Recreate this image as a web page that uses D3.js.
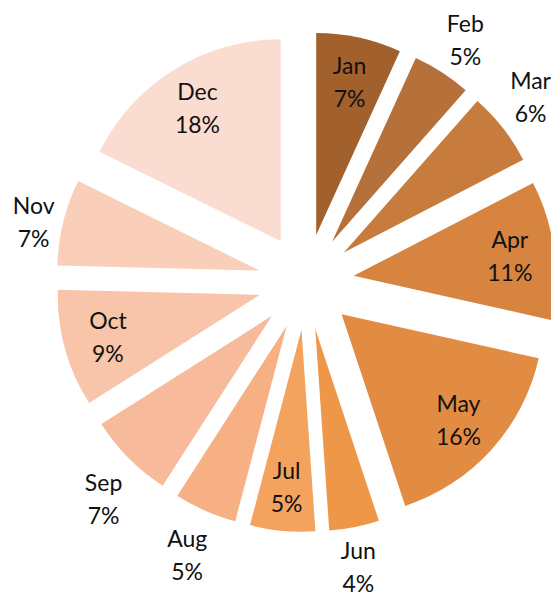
<!DOCTYPE html>
<html>
<head>
<meta charset="utf-8">
<script src="https://cdn.jsdelivr.net/npm/d3@7"></script>
<style>
  html, body { margin: 0; padding: 0; background: #fff; overflow: hidden; }
  text { font-family: Lato, "Open Sans", sans-serif; font-size: 23px; fill: #111; }
</style>
</head>
<body>
<div id="chart"></div>
<script>
// monthly share (percent)
const months = ["Jan", "Feb", "Mar", "Apr", "May", "Jun", "Jul", "Aug", "Sep", "Oct", "Nov", "Dec"];
const shares = [6.8, 4.7, 5.9, 11.1, 16.4, 4.0, 5.2, 5.0, 6.9, 9.4, 6.9, 17.7];
const colors = ["#a2602c", "#b6703a", "#c77b3d", "#d6843f", "#e28b43", "#ee9749",
                "#f4a35f", "#f6b083", "#f7bb9b", "#f8c5aa", "#f9cfb9", "#fbdcd0"];

const width = 551, height = 596;
const cx = 306, cy = 282;      // pie centre before explosion
const radius = 202;
const explode = 48;             // how far each slice is pulled out
const lineGap = 33;

const svg = d3.select("#chart").append("svg")
    .attr("width", width)
    .attr("height", height);

const data = months.map((m, i) => ({ month: m, value: shares[i], color: colors[i] }));
const total = d3.sum(shares);

const pie = d3.pie().sort(null).value(d => d.value);
const arc = d3.arc().innerRadius(0).outerRadius(radius);

const arcs = pie(data);
arcs.forEach(a => {
    a.mid = (a.startAngle + a.endAngle) / 2;
    a.dir = [Math.sin(a.mid), -Math.cos(a.mid)];
    a.apex = [cx + a.dir[0] * explode, cy + a.dir[1] * explode];
});

// slices
svg.append("g").selectAll("path")
    .data(arcs)
    .join("path")
    .attr("transform", d => `translate(${d.apex[0]},${d.apex[1]})`)
    .attr("d", arc)
    .attr("fill", d => d.data.color);

// labels
const labels = svg.append("g").selectAll("text")
    .data(arcs)
    .join("text")
    .attr("text-anchor", "middle")
    .attr("dominant-baseline", "central");

labels.append("tspan").attr("class", "l1").text(d => d.data.month);
labels.append("tspan").attr("class", "l2").text(d => Math.round(d.data.value / total * 100) + "%");

// does a label box of half size hw x hh, centred at p, fit inside the slice?
function fits(d, p, hw, hh) {
    const corners = [[-hw, -hh], [hw, -hh], [-hw, hh], [hw, hh]];
    return corners.every(([ox, oy]) => {
        const x = p[0] + ox - d.apex[0], y = p[1] + oy - d.apex[1];
        let ang = Math.atan2(x, -y);
        if (ang < 0) ang += 2 * Math.PI;
        return Math.hypot(x, y) <= radius && ang >= d.startAngle && ang <= d.endAngle;
    });
}

const rampX = v => Math.sign(v) * Math.min(1, Math.max(0, (Math.abs(v) - 0.15) / 0.35));
const rampY = v => Math.sign(v) * Math.min(1, Math.max(0, (Math.abs(v) - 0.25) / 0.25));

labels.each(function(d) {
    const t = d3.select(this);
    const w = Math.max(
        t.select(".l1").node().getComputedTextLength(),
        t.select(".l2").node().getComputedTextLength());
    const hh = lineGap / 2 + 13;

    let p = [d.apex[0] + d.dir[0] * radius * 0.78, d.apex[1] + d.dir[1] * radius * 0.78];
    if (!fits(d, p, w / 2, hh + 1)) {
        // outside: put the label box next to the arc, on the far side
        const edge = [d.apex[0] + d.dir[0] * radius, d.apex[1] + d.dir[1] * radius];
        const gy = d.dir[1] > 0 ? 16 : 4;
        p = [edge[0] + rampX(d.dir[0]) * (w / 2) + d.dir[0] * 9,
             edge[1] + rampY(d.dir[1]) * hh + d.dir[1] * gy];
        // keep it inside the bottom of the chart area
        p[1] = Math.min(p[1], height - hh);
    }
    t.select(".l1").attr("x", p[0]).attr("y", p[1] - lineGap / 2);
    t.select(".l2").attr("x", p[0]).attr("y", p[1] + lineGap / 2);
});
</script>
</body>
</html>
